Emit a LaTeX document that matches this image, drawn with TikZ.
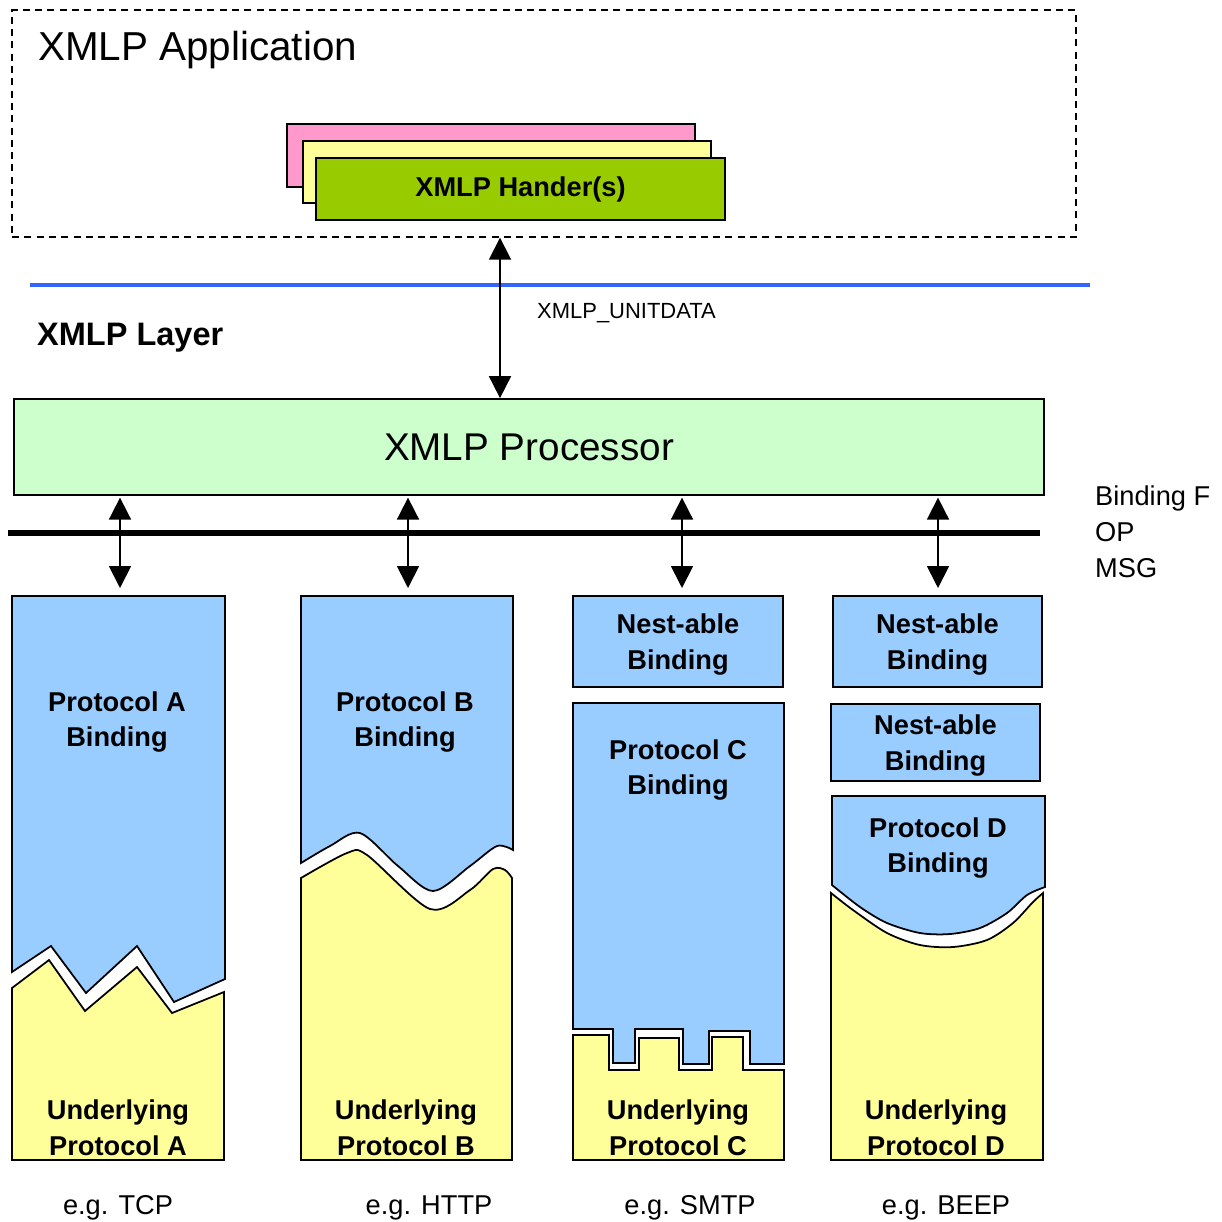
\documentclass[tikz,border=0pt]{standalone}
\usepackage{fontspec}
\setmainfont{Liberation Sans}
\usetikzlibrary{arrows.meta}

\definecolor{bindblue}{RGB}{153,204,255}
\definecolor{lowyellow}{RGB}{255,255,153}
\definecolor{procgreen}{RGB}{204,255,204}
\definecolor{handgreen}{RGB}{153,204,0}
\definecolor{handpink}{RGB}{255,153,204}
\definecolor{layerblue}{RGB}{51,102,255}

\begin{document}
\begin{tikzpicture}[x=0.02cm, y=-0.02cm]
    \tikzset{
        box/.style={draw=black, line width=1pt, inner sep=0pt},
        boldtxt/.style={font=\bfseries\fontsize{15.5}{20.4}\selectfont, align=center},
        plaintxt/.style={font=\fontsize{15.5}{20.4}\selectfont},
        dblarrow/.style={
            {Triangle[width=12.5pt, length=12.5pt]}-{Triangle[width=12.5pt, length=12.5pt]},
            line width=1pt,
        },
    }
    \useasboundingbox (0,0) rectangle (1222,1221);

    % Application
    \node[box, dash pattern=on 4pt off 3pt, line width=0.8pt,
        minimum width=21.28cm, minimum height=4.54cm] (app) at (544,123.5) {};
    \node[anchor=west, font=\fontsize{23}{28}\selectfont] (apptitle) at (32,50) {XMLP Application};
    \node[box, fill=handpink, minimum width=8.16cm, minimum height=1.26cm] (hpink) at (491,155.5) {};
    \node[box, fill=lowyellow, minimum width=8.16cm, minimum height=1.24cm] (hyellow) at (507,172) {};
    \node[box, fill=handgreen, minimum width=8.18cm, minimum height=1.24cm,
        font=\bfseries\fontsize{15.5}{18}\selectfont] (hgreen) at (520.5,189) {XMLP Hander(s)};

    % Layer
    \draw[layerblue, line width=2.3pt] (30,285) -- (1090,285);
    \node[anchor=west, font=\bfseries\fontsize{18.5}{22}\selectfont] (layer) at (31,338) {XMLP Layer};
    \node[anchor=west, font=\fontsize{12.5}{15}\selectfont] (unitdata) at (531,313) {XMLP\_UNITDATA};
    \node[box, fill=procgreen, minimum width=20.6cm, minimum height=1.92cm,
        font=\fontsize{22}{26}\selectfont] (proc) at (529,447) {XMLP Processor};
    \draw[line width=3.2pt] (8,533) -- (1040,533);
    \node[anchor=west, align=left, font=\fontsize{15.5}{20.4}\selectfont] (bindf) at (1089,532)
        {Binding F\\OP\\MSG};

    % Protocol A
    \draw[box, fill=bindblue] (12,596) -- (225,596) -- (225,979) -- (174,1002) -- (137,946)
        -- (86,993) -- (51,946) -- (12,972) -- cycle;
    \draw[box, fill=lowyellow] (12,988) -- (49,960) -- (85,1011) -- (137,967) -- (172,1013)
        -- (224,992) -- (224,1160) -- (12,1160) -- cycle;
    \node[boldtxt] (bindA) at (117,722) {Protocol A\\Binding};
    \node[boldtxt] (lowA) at (118,1128) {Underlying\\Protocol A};

    % Protocol B
    \draw[box, fill=bindblue] (301,596) -- (513,596) -- (513,850) -- plot[smooth] coordinates
        {(513,850) (497,846) (470,866) (433,891) (398,866) (360,833) (330,846) (301,863)} -- cycle;
    \draw[box, fill=lowyellow] (301,1160) -- (301,878) -- plot[smooth] coordinates
        {(301,878) (347,853) (367,855) (430,909) (470,890) (493,869) (505,870) (512,878)}
        -- (512,1160) -- cycle;
    \node[boldtxt] (bindB) at (405,722) {Protocol B\\Binding};
    \node[boldtxt] (lowB) at (406,1128) {Underlying\\Protocol B};

    % Protocol C
    \node[box, fill=bindblue, boldtxt, minimum width=4.2cm, minimum height=1.82cm] (nestC) at (678,641.5)
        {\strut Nest-able\\Binding};
    \draw[box, fill=bindblue] (573,703) -- (784,703) -- (784,1064) -- (750,1064) -- (750,1031)
        -- (709,1031) -- (709,1064) -- (683,1064) -- (683,1029) -- (635,1029) -- (635,1063)
        -- (613,1063) -- (613,1029) -- (573,1029) -- cycle;
    \draw[box, fill=lowyellow] (573,1160) -- (573,1035) -- (609,1035) -- (609,1070) -- (639,1070)
        -- (639,1038) -- (679,1038) -- (679,1070) -- (712,1070) -- (712,1037) -- (743,1037)
        -- (743,1070) -- (784,1070) -- (784,1160) -- cycle;
    \node[boldtxt] (bindC) at (678,770) {Protocol C\\Binding};
    \node[boldtxt] (lowC) at (678,1128) {Underlying\\Protocol C};

    % Protocol D
    \node[box, fill=bindblue, boldtxt, minimum width=4.18cm, minimum height=1.82cm] (nestD) at (937.5,641.5)
        {\strut Nest-able\\Binding};
    \node[box, fill=bindblue, boldtxt, minimum width=4.18cm, minimum height=1.54cm] (nestDD) at (935.5,742.5)
        {\strut Nest-able\\Binding};
    \draw[box, fill=bindblue] (832,796) -- (1045,796) -- (1045,887) -- plot[smooth] coordinates
        {(1045,887) (1027,895) (1007,913) (980,928) (950,934) (920,933) (887,923) (860,907) (832,885)}
        -- cycle;
    \draw[box, fill=lowyellow] (831,1160) -- (831,893) -- plot[smooth] coordinates
        {(831,893) (853,910) (887,933) (920,945) (953,947) (987,940) (1013,923) (1033,902) (1043,893)}
        -- (1043,1160) -- cycle;
    \node[boldtxt] (bindD) at (938,848) {Protocol D\\Binding};
    \node[boldtxt] (lowD) at (936,1128) {Underlying\\Protocol D};

    % Examples
    \node[plaintxt] (egA) at (118,1208) {e.g. TCP};
    \node[plaintxt] (egB) at (429,1208) {e.g. HTTP};
    \node[plaintxt] (egC) at (690,1208) {e.g. SMTP};
    \node[plaintxt] (egD) at (946,1208) {e.g. BEEP};

    % Arrows
    \coordinate (unitx) at (500,0);
    \coordinate (topA) at (120,588);
    \coordinate (topB) at (408,588);
    \coordinate (topC) at (682,588);
    \coordinate (topD) at (938,588);
    \draw[dblarrow] (app.south -| unitx) -- (proc.north -| unitx);
    \foreach \t in {topA, topB, topC, topD}
        \draw[dblarrow] ([yshift=-1pt]proc.south -| \t) -- (\t);

\end{tikzpicture}
\end{document}
